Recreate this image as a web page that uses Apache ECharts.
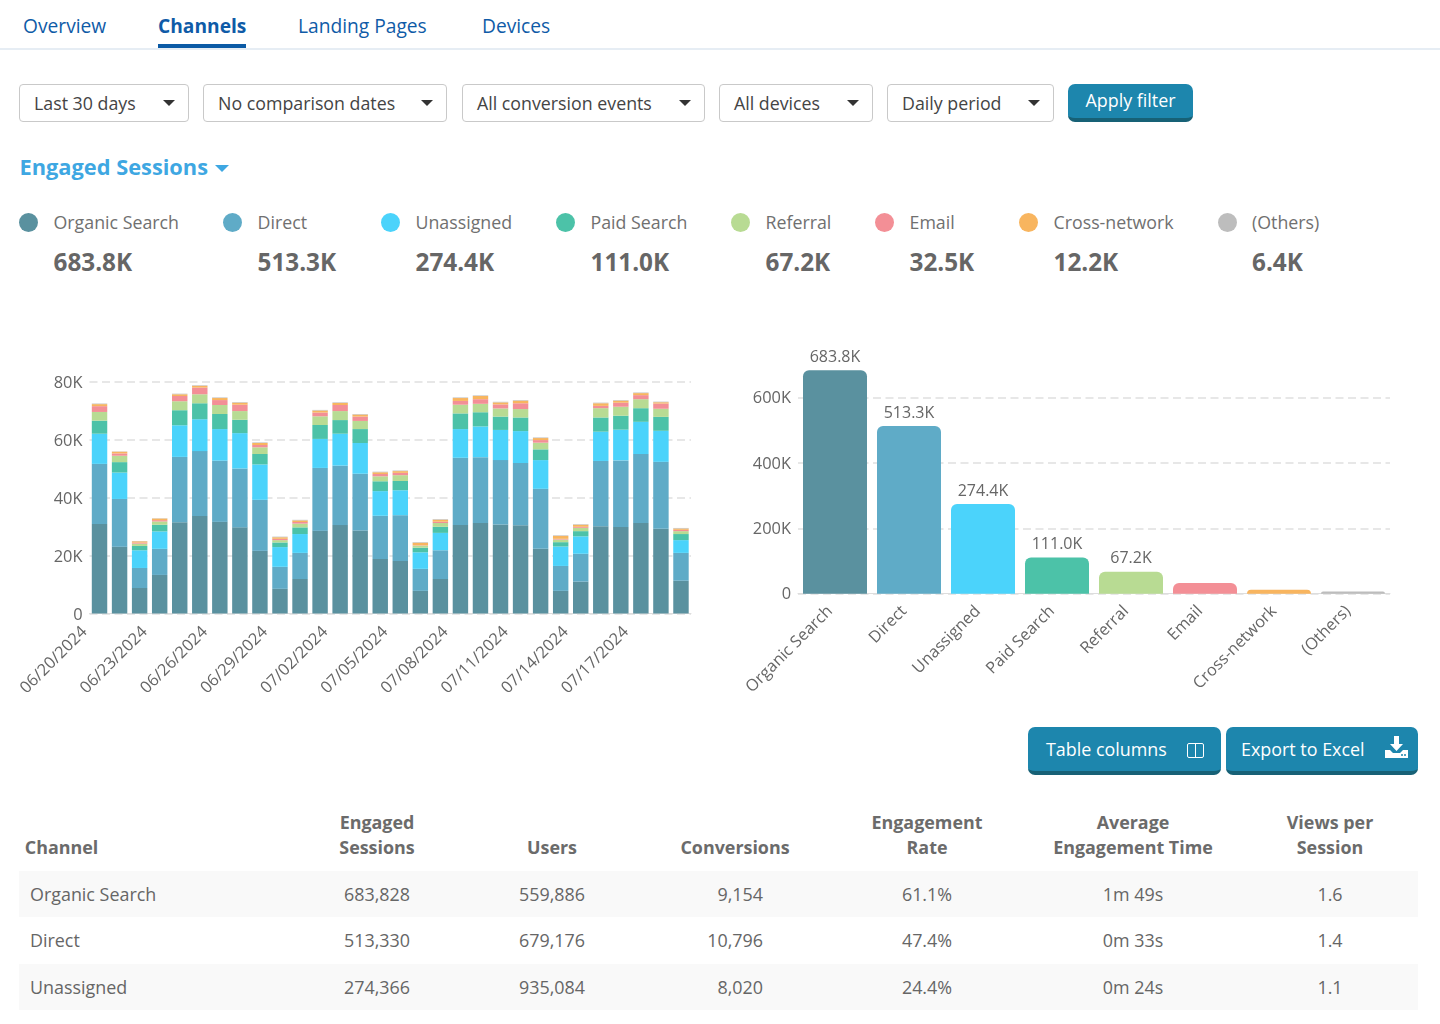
<!DOCTYPE html>
<html>
<head>
<meta charset="utf-8">
<title>Channels</title>
<script src="https://cdn.jsdelivr.net/npm/echarts@6/dist/echarts.min.js"></script>
<style>
  html, body { margin: 0; padding: 0; background: #fff; overflow: hidden; }
  body { width: 1440px; height: 1024px; position: relative; font-family: "Open Sans", sans-serif; color: #666; }
  .abs { position: absolute; white-space: nowrap; }
  .tab { font-size: 19.2px; color: #0f5ba7; top: 11.5px; line-height: 28px; }
  .filter { top: 84px; height: 36px; border: 1px solid #c9c9c9; border-radius: 4px; font-size: 17.8px; color: #444; line-height: 37px; text-indent: 14px; }
  .caret { border-left: 6px solid transparent; border-right: 6px solid transparent; border-top: 6px solid #333; width: 0; height: 0; }
  .btn { background: #1d86ad; border-bottom: 4px solid #176176; border-radius: 7px; color: #fff; font-size: 17.9px; box-sizing: border-box; }
  .dot { width: 19px; height: 19px; border-radius: 50%; top: 213px; }
  .lname { font-size: 17.8px; top: 209px; line-height: 27px; color: #707070; }
  .lval { font-size: 24.3px; font-weight: 700; top: 245px; line-height: 33px; color: #666; }
  .th { font-size: 17.9px; font-weight: 700; line-height: 25px; color: #6b6b6b; text-align: center; transform: translateX(-50%); }
  .td { font-size: 17.9px; line-height: 26px; color: #666; transform: translateX(-50%); }
</style>
</head>
<body>
<div id="page"></div>
<div id="dailyChart" class="abs" style="left:0;top:340px;width:720px;height:380px"></div>
<div id="totalChart" class="abs" style="left:730px;top:320px;width:710px;height:400px"></div>
<script>
var dates = ['06/20/2024','06/21/2024','06/22/2024','06/23/2024','06/24/2024','06/25/2024','06/26/2024','06/27/2024','06/28/2024','06/29/2024',
  '06/30/2024','07/01/2024','07/02/2024','07/03/2024','07/04/2024','07/05/2024','07/06/2024','07/07/2024','07/08/2024','07/09/2024',
  '07/10/2024','07/11/2024','07/12/2024','07/13/2024','07/14/2024','07/15/2024','07/16/2024','07/17/2024','07/18/2024','07/19/2024'];

var channels = ['Organic Search','Direct','Unassigned','Paid Search','Referral','Email','Cross-network','(Others)'];
var channelLabels = ['683.8K','513.3K','274.4K','111.0K','67.2K','32.5K','12.2K','6.4K'];
var channelTotals = [683828, 513330, 274366, 111000, 67200, 32500, 12200, 6400];
var channelColors = ['#5a919f','#5fabc7','#4bd3fb','#4cc2a8','#b8db93','#f38f96','#f8b55f','#bdbdbd'];

var organicSearch = [30900,23000,8800,13300,31500,33600,31600,29700,21600,8500,11900,28500,30500,28600,18800,18100,7800,11900,30500,31200,30700,30400,22300,7800,11000,30100,29800,31200,29200,11300];
var direct = [20700,16500,6900,9000,22500,22400,21100,20300,17600,7600,9000,21700,20500,19600,14900,15800,7600,9900,23200,22700,22200,21500,20700,8600,9600,22500,23000,23800,23100,9600];
var unassigned = [10400,9100,6100,6000,10900,11000,10900,12200,12200,6800,6500,10000,11000,10600,8500,8600,5700,6000,9900,10600,10400,11000,9900,6700,6000,10100,10600,11100,10700,4400];
var paidSearch = [4500,3600,1500,2300,5200,5500,5200,4600,3600,1600,2300,4800,4700,4800,3400,3200,1600,2100,5400,4900,4600,4700,3700,1500,1800,4900,4800,4700,4800,2100];
var referral = [3000,2200,800,1150,3100,3100,3100,3000,2300,800,1300,3000,3100,2800,1700,2000,700,1300,3000,2900,2800,2900,2300,900,1150,3200,3100,3100,2800,1000];
var email = [2000,800,350,450,1800,2300,1700,2200,800,450,550,1300,2100,1500,800,800,100,450,1300,1600,1400,2000,900,250,350,800,1400,1400,1800,450];
var crossNetwork = [700,600,450,550,600,600,700,700,700,550,550,700,700,700,600,600,900,700,1000,1100,700,900,700,1000,700,900,700,700,450,450];
var others = [200,100,100,100,200,200,200,200,200,200,200,200,200,200,200,200,200,200,200,200,200,200,200,200,200,200,200,200,200,200];
var dailySeries = [organicSearch, direct, unassigned, paidSearch, referral, email, crossNetwork, others];

var tabs = ['Overview','Channels','Landing Pages','Devices'];
var tabX = [23, 158, 298, 482];
var filters = ['Last 30 days','No comparison dates','All conversion events','All devices','Daily period'];
var filterX = [19, 203, 462, 719, 887];
var filterW = [168, 242, 241, 152, 165];
var legendDotX = [19, 223, 381, 556, 731, 875, 1019, 1218];
var legendTextX = [53.5, 257.5, 415.5, 590.5, 765.5, 909.5, 1053.5, 1252];

var tableHead = [['Engaged','Sessions'],['','Users'],['','Conversions'],['Engagement','Rate'],['Average','Engagement Time'],['Views per','Session']];
var tableColX = [377, 552, 735, 927, 1133, 1330];
var tableRows = [
  ['Organic Search','683,828','559,886','9,154','61.1%','1m 49s','1.6'],
  ['Direct','513,330','679,176','10,796','47.4%','0m 33s','1.4'],
  ['Unassigned','274,366','935,084','8,020','24.4%','0m 24s','1.1']
];
var rowTop = [871, 917, 964];
var rowH = [46, 47, 46];

// page chrome around the two charts
function add(cls, style, text) {
  var d = document.createElement('div');
  d.className = 'abs ' + cls;
  d.style.cssText = style;
  if (text) d.textContent = text;
  document.getElementById('page').appendChild(d);
  return d;
}

tabs.forEach(function(t, i) {
  add('tab', 'left:' + tabX[i] + 'px;' + (i == 1 ? 'font-weight:700;' : ''), t);
});
add('', 'left:0;top:48px;width:1440px;height:2px;background:#e6edf4');
add('', 'left:158px;top:44px;width:88px;height:4px;background:#0b5aa5');

filters.forEach(function(f, i) {
  add('filter', 'left:' + filterX[i] + 'px;width:' + filterW[i] + 'px', f);
  add('caret', 'left:' + (filterX[i] + filterW[i] - 24) + 'px;top:100px');
});
add('btn', 'left:1068px;top:84px;width:125px;height:38px;line-height:33px;text-align:center', 'Apply filter');

add('', 'left:19.5px;top:150px;font-size:21.8px;font-weight:700;color:#3ea7e2;line-height:34px', 'Engaged Sessions');
add('caret', 'left:215px;top:165px;border-left-width:7px;border-right-width:7px;border-top:7px solid #3ea7e2');

channels.forEach(function(c, i) {
  add('dot', 'left:' + legendDotX[i] + 'px;background:' + channelColors[i]);
  add('lname', 'left:' + legendTextX[i] + 'px', c);
  add('lval', 'left:' + legendTextX[i] + 'px', channelLabels[i]);
});

add('btn', 'left:1028px;top:727px;width:193px;height:48px;line-height:44px;text-indent:18px', 'Table columns');
add('btn', 'left:1226px;top:727px;width:192px;height:48px;line-height:44px;text-indent:15px', 'Export to Excel');
add('', 'left:1187px;top:743px;width:15px;height:13px;border:1.5px solid #fff;border-radius:2px');
add('', 'left:1194.5px;top:743px;width:1.5px;height:15px;background:#fff');
add('', 'left:1384px;top:736px;width:25px;height:22px').innerHTML =
  '<svg width="25" height="22" viewBox="0 0 25 22"><path d="M10 0h5v8h4l-6.5 7L6 8h4z" fill="#fff"/><path d="M1 14h5l3 3h7l3-3h5v8H1z" fill="#fff"/><circle cx="18" cy="19" r="1" fill="#1d86ad"/><circle cx="21" cy="19" r="1" fill="#1d86ad"/></svg>';

add('th', 'left:61.5px;top:835px', 'Channel');
tableHead.forEach(function(h, i) {
  if (h[0]) add('th', 'left:' + tableColX[i] + 'px;top:810px', h[0]);
  add('th', 'left:' + tableColX[i] + 'px;top:835px', h[1]);
});
tableRows.forEach(function(r, i) {
  if (i != 1) add('', 'left:19px;width:1399px;background:#f9f9f9;top:' + rowTop[i] + 'px;height:' + rowH[i] + 'px');
  add('', 'left:30px;font-size:17.9px;line-height:26px;top:' + (rowTop[i] + 10) + 'px', r[0]);
  for (var c = 1; c < r.length; c++) {
    // the conversions column lines up on its right edge
    var pos = c == 3 ? 'left:763px;transform:translateX(-100%);' : 'left:' + tableColX[c - 1] + 'px;';
    add('td', pos + 'top:' + (rowTop[i] + 10) + 'px', r[c]);
  }
});

function kLabel(v) { return v === 0 ? '0' : (v / 1000) + 'K'; }

// Daily sessions (stacked bars)
var dailyChart = echarts.init(document.getElementById('dailyChart'));
var dailyOption = {
  animation: false,
  grid: { left: 89.5, right: 29, top: 41.5, bottom: 106.5 },
  xAxis: {
    type: 'category',
    data: dates,
    axisTick: { show: false },
    axisLine: { lineStyle: { color: '#ddd' } },
    axisLabel: { interval: 2, rotate: 45, fontFamily: 'Open Sans', fontSize: 16.4, color: '#666', margin: 1, padding: [0, 21, 0, 0] }
  },
  yAxis: {
    type: 'value',
    min: 0,
    max: 80000,
    interval: 20000,
    axisLine: { show: false },
    axisTick: { show: false },
    axisLabel: { formatter: kLabel, fontFamily: 'Open Sans', fontSize: 16.4, color: '#666', margin: 7, verticalAlign: 'top', padding: [-6.5, 0, 0, 0] },
    splitLine: { lineStyle: { color: '#e0e0e0', type: [8, 4.5], width: 1.5 } }
  },
  series: dailySeries.map(function(values, i) {
    return {
      name: channels[i],
      type: 'bar',
      stack: 'sessions',
      barWidth: '77%',
      data: values,
      itemStyle: { color: channelColors[i] }
    };
  })
};
dailyChart.setOption(dailyOption);

// Totals by channel
var totalChart = echarts.init(document.getElementById('totalChart'));
var totalOption = {
  animation: false,
  grid: { left: 68, right: 50, top: 12.4, bottom: 126.3 },
  xAxis: {
    type: 'category',
    data: channels,
    axisTick: { show: false },
    axisLine: { lineStyle: { color: '#ddd' } },
    axisLabel: { interval: 0, rotate: 45, fontFamily: 'Open Sans', fontSize: 16.3, color: '#666', margin: 10, padding: [0, 7, 0, 0] }
  },
  yAxis: {
    type: 'value',
    min: 0,
    max: 800000,
    interval: 200000,
    axisLine: { show: false },
    axisTick: { show: false },
    axisLabel: { formatter: kLabel, showMaxLabel: false, fontFamily: 'Open Sans', fontSize: 16.4, color: '#666', margin: 7, verticalAlign: 'top', padding: [-7, 0, 0, 0] },
    splitLine: { showMaxLine: false, lineStyle: { color: '#e0e0e0', type: [8, 4.5], width: 1.5 } }
  },
  series: [{
    name: 'Engaged Sessions',
    type: 'bar',
    barWidth: 64,
    data: channelTotals.map(function(v, i) {
      return {
        value: v,
        itemStyle: { color: channelColors[i], borderRadius: [6, 6, 0, 0] },
        label: { show: i < 5, formatter: channelLabels[i] }
      };
    }),
    label: { position: 'top', fontFamily: 'Open Sans', fontSize: 16, color: '#666', distance: 5 }
  }]
};
totalChart.setOption(totalOption);

window.addEventListener('resize', function() {
  dailyChart.resize();
  totalChart.resize();
});
</script>
</body>
</html>
